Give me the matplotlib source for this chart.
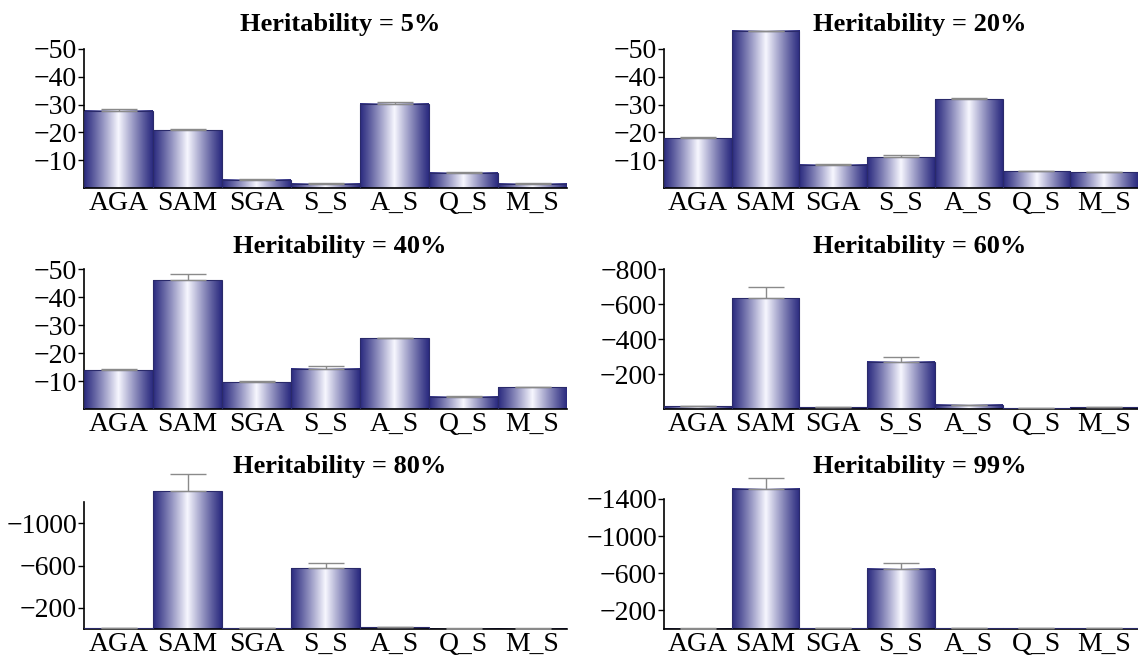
import numpy as np
import matplotlib
matplotlib.use('Agg')
import matplotlib.pyplot as plt

# data
cats = ['AGA', 'SAM', 'SGA', 'S_S', 'A_S', 'Q_S', 'M_S']
titles = ['Heritability = 5%', 'Heritability = 20%', 'Heritability = 40%',
          'Heritability = 60%', 'Heritability = 80%', 'Heritability = 99%']

h5 = [-27.8, -20.7, -2.9, -1.6, -30.3, -5.4, -1.5]
h5_err = [0.7, 0.4, 0.3, 0.3, 0.6, 0.3, 0.3]
h20 = [-17.8, -56.6, -8.3, -11.0, -31.9, -6.0, -5.6]
h20_err = [0.4, 0.0, 0.3, 0.7, 0.6, 0.2, 0.2]
h40 = [-13.9, -46.1, -9.5, -14.4, -25.2, -4.4, -7.7]
h40_err = [0.5, 2.0, 0.5, 0.8, 0.3, 0.2, 0.2]
h60 = [-17, -632, -10, -270, -23, -4, -10]
h60_err = [2, 67, 2, 29, 2, 1, 1]
h80 = [-7, -1300, -8, -572, -15, -3, -4]
h80_err = [3, 160, 3, 55, 3, 2, 2]
h99 = [-5, -1507, -10, -650, -10, -8, -8]
h99_err = [3, 115, 3, 58, 3, 3, 3]

values = [h5, h20, h40, h60, h80, h99]
errors = [h5_err, h20_err, h40_err, h60_err, h80_err, h99_err]
yticks = [[-10, -20, -30, -40, -50], [-10, -20, -30, -40, -50],
          [-10, -20, -30, -40, -50], [-200, -400, -600, -800],
          [-200, -600, -1000], [-200, -600, -1000, -1400]]
spine_top = [-50, -50, -50, -800, -1200, -1400]
ylim_top = [-60.4, -60.4, -60.4, -966, -1597, -1819]

plt.rcParams['font.family'] = ['Liberation Serif', 'DejaVu Serif']

W, H = 1138, 655
fig = plt.figure(figsize=(W / 100, H / 100), dpi=100)

# axes boxes in pixels (left, right, bottom, top)
cols = [(84, 567), (664, 1138)]
rows = [(188, 20), (409, 240), (629, 460)]
title_x = [340, 920]
title_y = [25, 247, 467]

# gradient: dark navy at edges, white in the middle
dark = np.array([0.17, 0.17, 0.50])
light = np.array([0.97, 0.97, 1.0])
xs = np.linspace(0, 1, 200)
t = (1 - np.abs(2 * xs - 1)) ** 1.1
grad = (dark[None, :] * (1 - t[:, None]) + light[None, :] * t[:, None])[None, :, :]

x = np.arange(len(cats))
for k in range(6):
    r, c = k // 2, k % 2
    x0, x1 = cols[c]
    b, tp = rows[r]
    ax = fig.add_axes([x0 / W, (H - b) / H, (x1 - x0) / W, (b - tp) / H])
    ax.patch.set_alpha(0)

    vals = values[k]
    for i, v in enumerate(vals):
        ax.imshow(grad, extent=(i - 0.5, i + 0.5, 0, v), aspect='auto',
                  interpolation='bilinear', zorder=2)
    ax.bar(x, vals, width=1.0, facecolor='none', edgecolor='#2a2a6a',
           linewidth=0.8, zorder=3)
    errs = errors[k]
    ax.errorbar(x, vals, yerr=[errs, np.zeros(len(errs))], fmt='none',
                ecolor='#8a8a8a', elinewidth=1.0, capsize=13, capthick=1.0,
                zorder=4)

    ax.set_xlim(-0.5, len(cats) - 0.5)
    ax.set_ylim(0, ylim_top[k])
    ax.set_yticks(yticks[k])
    ax.set_xticks(x)
    ax.set_xticklabels(cats)
    ax.tick_params(axis='x', length=0, pad=2, labelsize=20)
    ax.tick_params(axis='y', length=4, width=1, pad=1, labelsize=20)
    for s in ['top', 'right']:
        ax.spines[s].set_visible(False)
    ax.spines['left'].set_bounds(0, spine_top[k])
    ax.spines['left'].set_linewidth(1.2)
    ax.spines['bottom'].set_linewidth(1.2)

    fig.text(title_x[c] / W, 1 - title_y[r] / H, titles[k], ha='center',
             va='center', fontsize=19, fontweight='bold')

fig.savefig('out.png', dpi=100)
